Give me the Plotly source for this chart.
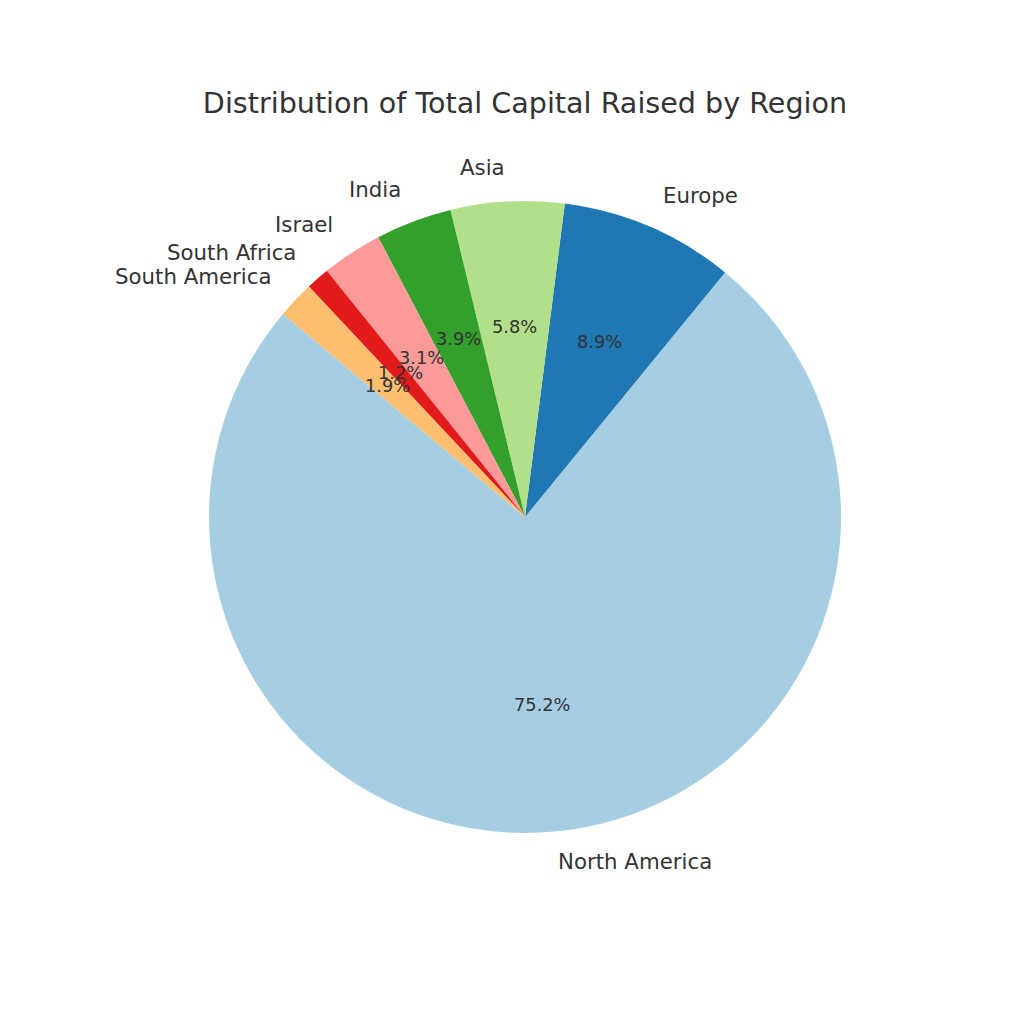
import math
import plotly.graph_objects as go

regions = ["North America", "Europe", "Asia", "India", "Israel", "South Africa", "South America"]
shares = [75.2, 8.9, 5.8, 3.9, 3.1, 1.2, 1.9]
colors = ["#a6cee3", "#1f78b4", "#b2df8a", "#33a02c", "#fb9a99", "#e31a1c", "#fdbf6f"]
title_text = "Distribution of Total Capital Raised by Region"

W = H = 1024
PAGE_OFF = 8  # browser body margin
CX, CY, R = 525 - PAGE_OFF, 517 - PAGE_OFF, 316  # pie centre (px in figure) and radius
START = 140  # degrees, math convention, counterclockwise
FONT = "DejaVu Sans"
TXT = "#333333"

total = sum(shares)
# plotly (counterclockwise): rotation marks the boundary between 1st and 2nd slice
rotation = 90 - (START + 360 * shares[0] / total)

fig = go.Figure(go.Pie(
    labels=regions, values=shares, sort=False, direction="counterclockwise",
    rotation=rotation, marker=dict(colors=colors, line=dict(width=0)),
    textinfo="none", hoverinfo="label+percent", showlegend=False,
    domain=dict(x=[(CX - R) / W, (CX + R) / W], y=[(H - CY - R) / H, (H - CY + R) / H]),
))

ann = []
acc = 0.0
for lab, v in zip(regions, shares):
    mid = math.radians(START + 360 * (acc + v / 2) / total)
    acc += v
    c, s = math.cos(mid), math.sin(mid)
    ann.append(dict(
        x=(CX + 1.1 * R * c) / W, y=(H - CY + 1.1 * R * s) / H, xref="paper", yref="paper",
        text=lab, showarrow=False, xanchor="left" if c > 0 else "right", yanchor="middle",
        font=dict(family=FONT, size=21.3, color=TXT), borderpad=0, yshift=2,
    ))
    ann.append(dict(
        x=(CX + 0.6 * R * c) / W, y=(H - CY + 0.6 * R * s) / H, xref="paper", yref="paper",
        text=f"{100 * v / total:.1f}%", showarrow=False, xanchor="center", yanchor="middle",
        font=dict(family=FONT, size=17.8, color=TXT), borderpad=0, yshift=1,
    ))

fig.update_layout(
    width=W, height=H, margin=dict(l=0, r=0, t=0, b=0),
    paper_bgcolor="white", plot_bgcolor="white",
    title=dict(text=title_text, x=CX / W, xanchor="center", y=(H - (103 - PAGE_OFF)) / H,
               yanchor="middle", xref="paper", yref="paper",
               font=dict(family=FONT, size=28.6, color=TXT)),
    annotations=ann,
)
fig.write_html("out.html")
